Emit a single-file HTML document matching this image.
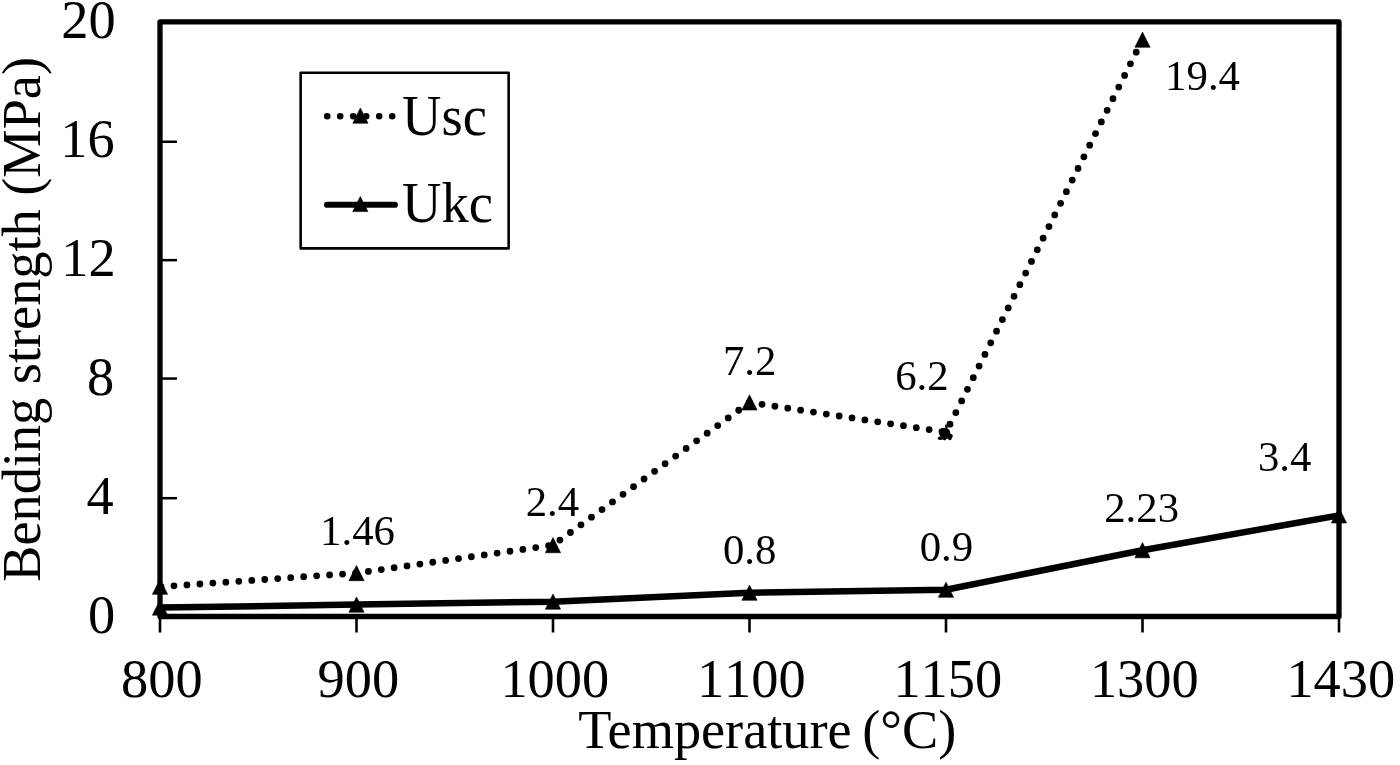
<!DOCTYPE html>
<html><head><meta charset="utf-8">
<style>
html,body{margin:0;padding:0;background:#fff;width:1400px;height:765px;overflow:hidden}
svg{display:block;will-change:transform}
text{font-family:"Liberation Serif",serif;fill:#000;font-kerning:none}
.k{font-kerning:normal}
</style></head>
<body>
<svg width="1400" height="765" viewBox="0 0 1400 765">
<defs>
<path id="tri" d="M0,-7.6 L7.6,7.6 L-7.6,7.6 Z" stroke="#000" stroke-width="0.6" stroke-linejoin="round"/>
</defs>
<rect x="160.0" y="21.85" width="1179.0" height="594.65" fill="none" stroke="#000" stroke-width="5.3" stroke-linejoin="round"/>
<g stroke="#000" stroke-width="2.5">
<line x1="160.0" y1="498.20" x2="177.0" y2="498.20"/>
<line x1="160.0" y1="378.55" x2="177.0" y2="378.55"/>
<line x1="160.0" y1="260.15" x2="177.0" y2="260.15"/>
<line x1="160.0" y1="141.75" x2="177.0" y2="141.75"/>
</g>
<g stroke="#000" stroke-width="2.6">
<line x1="160.00" y1="616.5" x2="160.00" y2="632.5"/>
<line x1="356.50" y1="616.5" x2="356.50" y2="632.5"/>
<line x1="553.00" y1="616.5" x2="553.00" y2="632.5"/>
<line x1="749.50" y1="616.5" x2="749.50" y2="632.5"/>
<line x1="946.00" y1="616.5" x2="946.00" y2="632.5"/>
<line x1="1142.50" y1="616.5" x2="1142.50" y2="632.5"/>
<line x1="1339.00" y1="616.5" x2="1339.00" y2="632.5"/>
</g>
<text transform="translate(115.10 633.00) scale(1 1.01)" font-size="54.4" text-anchor="end">0</text>
<text transform="translate(113.60 514.07) scale(1 1.01)" font-size="54.4" text-anchor="end">4</text>
<text transform="translate(114.10 395.14) scale(1 1.01)" font-size="54.4" text-anchor="end">8</text>
<text transform="translate(115.60 276.21) scale(1 1.01)" font-size="54.4" text-anchor="end">12</text>
<text transform="translate(114.60 157.28) scale(1 1.01)" font-size="54.4" text-anchor="end">16</text>
<text transform="translate(115.60 38.35) scale(1 1.01)" font-size="54.4" text-anchor="end">20</text>
<text transform="translate(161.80 697.10) scale(1 1.01)" font-size="54.4" text-anchor="middle">800</text>
<text transform="translate(358.30 697.10) scale(1 1.01)" font-size="54.4" text-anchor="middle">900</text>
<text transform="translate(554.80 697.10) scale(1 1.01)" font-size="54.4" text-anchor="middle">1000</text>
<text transform="translate(751.30 697.10) scale(1 1.01)" font-size="54.4" text-anchor="middle">1100</text>
<text transform="translate(947.80 697.10) scale(1 1.01)" font-size="54.4" text-anchor="middle">1150</text>
<text transform="translate(1144.30 697.10) scale(1 1.01)" font-size="54.4" text-anchor="middle">1300</text>
<text transform="translate(1340.80 697.10) scale(1 1.01)" font-size="54.4" text-anchor="middle">1430</text>
<text transform="translate(578.20 748.30) scale(1 1.02)" font-size="54.3" text-anchor="start" class="k">Temperature <tspan dx="-3">(</tspan>°C)</text>
<text class="k" transform="translate(40.0 580.2) rotate(-90) scale(1 1.02)" font-size="54.3" x="-1.5">Bending strength (MPa)</text>
<polyline points="160.00,586.77 356.50,573.09 553.00,545.14 749.50,402.43 946.00,432.16 1142.50,39.69" fill="none" stroke="#000" stroke-width="6.8" stroke-dasharray="0 13" stroke-dashoffset="-1" stroke-linecap="round" stroke-linejoin="round"/>
<use href="#tri" x="160.00" y="586.77"/>
<use href="#tri" x="356.50" y="573.09"/>
<use href="#tri" x="553.00" y="545.14"/>
<use href="#tri" x="749.50" y="402.43"/>
<g fill="#000"><ellipse cx="944.4" cy="433" rx="5.4" ry="5"/><rect x="945.2" y="424.6" width="2.4" height="6"/><circle cx="939.6" cy="438.3" r="1.8"/><circle cx="944.6" cy="438.6" r="1.8"/><circle cx="949.9" cy="438.4" r="1.8"/><circle cx="950.9" cy="435.9" r="1.9"/><path d="M940,437 L949,429 L952,438 L940,440 Z"/></g>
<use href="#tri" x="1142.50" y="39.69"/>
<polyline points="160.00,607.58 356.50,604.61 553.00,601.63 749.50,592.71 946.00,589.74 1142.50,550.20 1339.00,515.41" fill="none" stroke="#000" stroke-width="6.5" stroke-linejoin="round"/>
<use href="#tri" x="160.00" y="607.58"/>
<use href="#tri" x="356.50" y="604.61"/>
<use href="#tri" x="553.00" y="601.63"/>
<use href="#tri" x="749.50" y="592.71"/>
<use href="#tri" x="946.00" y="589.74"/>
<use href="#tri" x="1142.50" y="550.20"/>
<use href="#tri" x="1339.00" y="515.41"/>
<text transform="translate(357.48 544.80) scale(1 1.005)" font-size="42.8" text-anchor="middle">1.46</text>
<text transform="translate(552.42 516.30) scale(1 1.005)" font-size="42.8" text-anchor="middle">2.4</text>
<text transform="translate(749.69 374.60) scale(1 1.005)" font-size="42.8" text-anchor="middle">7.2</text>
<text transform="translate(921.88 390.40) scale(1 1.005)" font-size="42.8" text-anchor="middle">6.2</text>
<text transform="translate(1202.53 89.50) scale(1 1.005)" font-size="42.8" text-anchor="middle">19.4</text>
<text transform="translate(749.72 564.30) scale(1 1.005)" font-size="42.8" text-anchor="middle">0.8</text>
<text transform="translate(946.39 560.50) scale(1 1.005)" font-size="42.8" text-anchor="middle">0.9</text>
<text transform="translate(1141.61 521.50) scale(1 1.005)" font-size="42.8" text-anchor="middle">2.23</text>
<text transform="translate(1284.64 470.50) scale(1 1.005)" font-size="42.8" text-anchor="middle">3.4</text>
<rect x="300.65" y="72.75" width="208" height="175.6" fill="#fff" stroke="#000" stroke-width="2.6" stroke-linejoin="round"/>
<line x1="327.2" y1="116.2" x2="392.5" y2="116.2" stroke="#000" stroke-width="6.6" stroke-dasharray="0 13" stroke-linecap="round"/>
<use href="#tri" x="360.4" y="115.6"/>
<line x1="327.1" y1="204.75" x2="394.8" y2="204.75" stroke="#000" stroke-width="6.2" stroke-linecap="round"/>
<use href="#tri" x="360.3" y="204"/>
<text transform="translate(402.05 134.90) scale(1 1.053)" font-size="54.6" text-anchor="start">Usc</text>
<text transform="translate(402.05 221.90) scale(1 1.053)" font-size="54.6" text-anchor="start">Ukc</text>
</svg>
</body></html>
